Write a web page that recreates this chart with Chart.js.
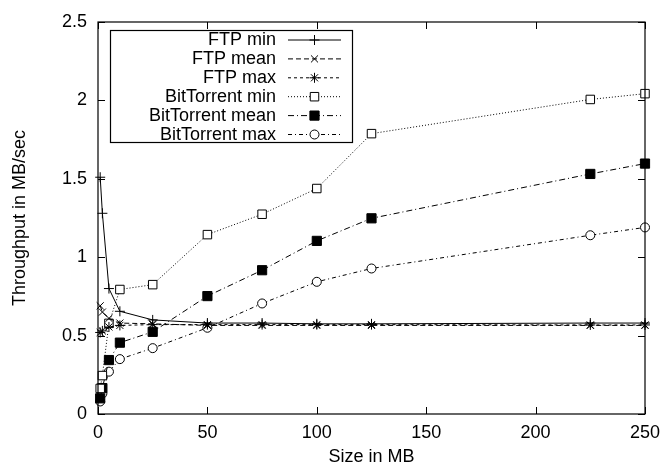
<!DOCTYPE html>
<html>
<head>
<meta charset="utf-8">
<script src="https://cdn.jsdelivr.net/npm/chart.js@4/dist/chart.umd.min.js"></script>
<style>
body { margin: 0; background: #fff; }
#wrap { width: 672px; height: 468px; }
</style>
</head>
<body>
<div id="wrap"><canvas id="myChart" width="672" height="468"></canvas></div>
<script>
// file sizes (MB) and measured throughput (MB/sec)
const sizes = [1, 2, 5, 10, 25, 50, 75, 100, 125, 225, 250];
const ftpMin = [1.51, 1.28, 0.80, 0.655, 0.60, 0.58, 0.58, 0.575, 0.575, 0.58, 0.58];
const ftpMean = [0.69, 0.65, 0.61, 0.58, 0.575, 0.565, 0.565, 0.565, 0.565, 0.565, 0.565];
const ftpMax = [0.52, 0.53, 0.555, 0.565, 0.57, 0.57, 0.57, 0.57, 0.57, 0.568, 0.568];
const btMin = [0.163, 0.245, 0.578, 0.794, 0.825, 1.144, 1.274, 1.438, 1.788, 2.006, 2.043];
const btMean = [0.10, 0.165, 0.344, 0.455, 0.524, 0.752, 0.917, 1.104, 1.248, 1.531, 1.597];
const btMax = [0.08, 0.13, 0.27, 0.35, 0.42, 0.55, 0.705, 0.843, 0.928, 1.14, 1.19];

const seriesNames = ["FTP min", "FTP mean", "FTP max", "BitTorrent min", "BitTorrent mean", "BitTorrent max"];
const xTicks = [0, 50, 100, 150, 200, 250];
const yTicks = [0, 0.5, 1, 1.5, 2, 2.5];
const yTickLabels = ["0", "0.5", "1", "1.5", "2", "2.5"];

const FONT = "'Liberation Sans', Arial, sans-serif";

function pts(values) {
    return sizes.map((s, i) => ({ x: s, y: values[i] }));
}

function makeSet(label, values, dash, style, fill, radius) {
    return {
        label: label,
        data: pts(values),
        borderColor: "#000",
        borderWidth: 1,
        borderDash: dash,
        pointStyle: style,
        pointRadius: radius,
        pointBorderWidth: 1,
        pointBorderColor: "#000",
        pointBackgroundColor: fill,
        tension: 0,
        clip: false,
    };
}

const datasets = [
    makeSet(seriesNames[0], ftpMin, [], "cross", "#000", 5),
    makeSet(seriesNames[1], ftpMean, [5, 3], "crossRot", "#000", 5),
    makeSet(seriesNames[2], ftpMax, [3, 3], "star", "#000", 5),
    makeSet(seriesNames[3], btMin, [1, 2], "rect", "#fff", 6),
    makeSet(seriesNames[4], btMean, [6, 3, 1, 3], "rect", "#000", 6.5),
    makeSet(seriesNames[5], btMax, [4, 3, 1, 3], "circle", "#fff", 4.5),
];

// gnuplot style frame with inward ticks on all four sides
const framePlugin = {
    id: "frame",
    afterDraw(chart) {
        const c = chart.ctx;
        const a = chart.chartArea;
        const sx = chart.scales.x;
        const sy = chart.scales.y;
        c.save();
        c.strokeStyle = "#000";
        c.lineWidth = 1.2;
        c.setLineDash([]);
        c.strokeRect(a.left, a.top, a.right - a.left, a.bottom - a.top);
        c.lineWidth = 1;
        c.beginPath();
        xTicks.forEach((v) => {
            const px = Math.round(sx.getPixelForValue(v)) + 0.5;
            c.moveTo(px, a.bottom); c.lineTo(px, a.bottom - 7);
            c.moveTo(px, a.top); c.lineTo(px, a.top + 7);
        });
        yTicks.forEach((v) => {
            const py = Math.round(sy.getPixelForValue(v)) + 0.5;
            c.moveTo(a.left, py); c.lineTo(a.left + 7, py);
            c.moveTo(a.right, py); c.lineTo(a.right - 7, py);
        });
        c.stroke();
        c.restore();
    },
};

// key box in the upper left corner, text right aligned, sample on the right
const keyPlugin = {
    id: "key",
    afterDraw(chart) {
        const c = chart.ctx;
        const a = chart.chartArea;
        const left = a.left + 12, top = a.top + 8, w = 242, h = 112;
        const textRight = left + 166, lineL = left + 178, lineR = left + 231;
        c.save();
        c.fillStyle = "#fff";
        c.fillRect(left, top, w, h);
        c.strokeStyle = "#000";
        c.lineWidth = 1.2;
        c.strokeRect(left + 0.5, top + 0.5, w, h);
        c.font = "18px " + FONT;
        c.textAlign = "right";
        c.textBaseline = "middle";
        chart.data.datasets.forEach((ds, i) => {
            const y = top + 9.5 + i * 18.9;
            c.fillStyle = "#000";
            c.fillText(ds.label, textRight, y + 1);
            c.lineWidth = 1;
            c.setLineDash(ds.borderDash);
            c.beginPath();
            c.moveTo(lineL, y + 0.5);
            c.lineTo(lineR, y + 0.5);
            c.stroke();
            c.setLineDash([]);
            c.fillStyle = ds.pointBackgroundColor;
            Chart.helpers.drawPoint(c, {
                pointStyle: ds.pointStyle,
                radius: ds.pointRadius,
                rotation: 0,
                borderWidth: 1,
            }, (lineL + lineR) / 2, y + 0.5);
        });
        c.restore();
    },
};

const myChart = new Chart(document.getElementById("myChart"), {
    type: "line",
    data: { datasets: datasets },
    plugins: [framePlugin, keyPlugin],
    options: {
        responsive: false,
        animation: false,
        events: [],
        layout: { padding: { top: 22, right: 27, left: 0, bottom: 0 } },
        plugins: { legend: { display: false }, tooltip: { enabled: false } },
        scales: {
            x: {
                type: "linear",
                min: 0,
                max: 250,
                afterFit(scale) { scale.height = 54; },
                afterBuildTicks(scale) { scale.ticks = xTicks.map((v) => ({ value: v })); },
                grid: { display: false, drawTicks: false },
                border: { display: false },
                ticks: { color: "#000", padding: 8, font: { family: FONT, size: 18 } },
                title: { display: true, text: "Size in MB", color: "#000", padding: { top: 0, bottom: 0 }, font: { family: FONT, size: 18 } },
            },
            y: {
                type: "linear",
                min: 0,
                max: 2.5,
                afterFit(scale) { scale.width = 98; },
                afterBuildTicks(scale) { scale.ticks = yTicks.map((v) => ({ value: v })); },
                grid: { display: false, drawTicks: false },
                border: { display: false },
                ticks: {
                    color: "#000",
                    padding: 11,
                    font: { family: FONT, size: 18 },
                    callback: (v) => yTickLabels[yTicks.indexOf(v)],
                },
                title: { display: true, text: "Throughput in MB/sec", color: "#000", padding: { top: 9, bottom: 0 }, font: { family: FONT, size: 18 } },
            },
        },
    },
});
</script>
</body>
</html>
